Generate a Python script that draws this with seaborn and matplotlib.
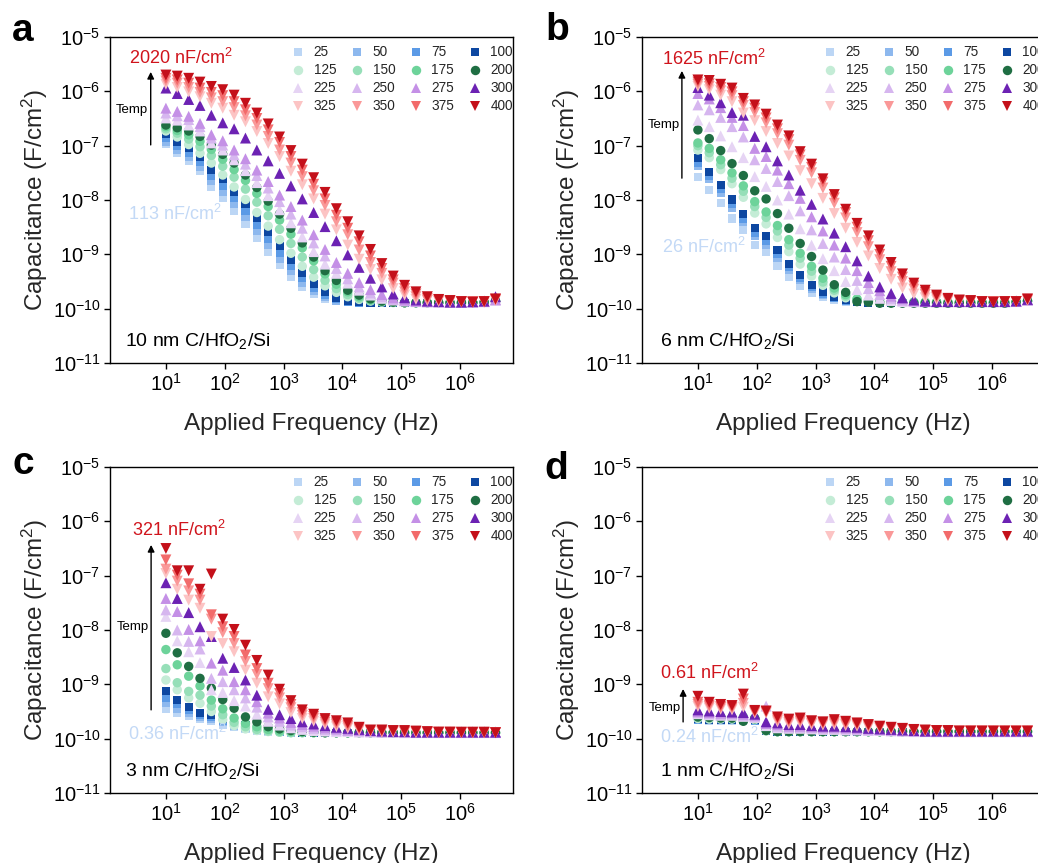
import matplotlib
matplotlib.use("Agg")
import matplotlib.pyplot as plt
import pandas as pd
import seaborn as sns
from matplotlib.lines import Line2D
from matplotlib.ticker import LogLocator, NullLocator

# ---------------- data ----------------
FREQ_HZ = [10, 15.6, 24.4, 38.0, 59.3, 92.6, 144.5, 225.5, 352, 549, 857, 1337,
           2087, 3257, 5083, 7932, 12380, 19320, 30150, 47050, 73430, 114600,
           178800, 279100, 435500, 679700, 1061000, 1655000, 2583000, 4031000]
TEMPS = [25, 50, 75, 100, 125, 150, 175, 200, 225, 250, 275, 300, 325, 350, 375, 400]

# log10 of capacitance (F/cm^2) -- panel a: 10 nm C/HfO2/Si
A25 = [-6.97, -7.14, -7.28, -7.47, -7.76, -7.97, -8.20, -8.45, -8.70, -8.95, -9.20, -9.42, -9.60, -9.73, -9.82, -9.86, -9.88, -9.89, -9.90, -9.90, -9.90, -9.90, -9.90, -9.90, -9.90, -9.90, -9.90, -9.90, -9.89, -9.87]
A50 = [-6.93, -7.08, -7.21, -7.39, -7.65, -7.85, -8.08, -8.32, -8.57, -8.83, -9.08, -9.31, -9.52, -9.68, -9.79, -9.85, -9.88, -9.89, -9.90, -9.90, -9.90, -9.90, -9.90, -9.90, -9.90, -9.90, -9.90, -9.90, -9.89, -9.87]
A75 = [-6.86, -7.01, -7.13, -7.30, -7.55, -7.74, -7.97, -8.21, -8.46, -8.71, -8.97, -9.21, -9.44, -9.62, -9.75, -9.83, -9.87, -9.89, -9.90, -9.90, -9.90, -9.90, -9.90, -9.90, -9.90, -9.90, -9.90, -9.90, -9.89, -9.87]
A100 = [-6.78, -6.94, -7.05, -7.20, -7.45, -7.62, -7.85, -8.08, -8.33, -8.58, -8.85, -9.10, -9.35, -9.55, -9.70, -9.80, -9.85, -9.88, -9.90, -9.90, -9.90, -9.90, -9.90, -9.90, -9.90, -9.90, -9.90, -9.90, -9.89, -9.87]
A125 = [-6.73, -6.84, -6.98, -7.14, -7.32, -7.54, -7.76, -7.99, -8.23, -8.48, -8.73, -8.98, -9.22, -9.42, -9.58, -9.70, -9.78, -9.83, -9.86, -9.88, -9.89, -9.89, -9.89, -9.89, -9.89, -9.89, -9.89, -9.89, -9.88, -9.86]
A150 = [-6.69, -6.77, -6.88, -7.02, -7.18, -7.38, -7.58, -7.80, -8.04, -8.29, -8.54, -8.80, -9.05, -9.28, -9.48, -9.63, -9.74, -9.81, -9.85, -9.87, -9.88, -9.89, -9.89, -9.89, -9.89, -9.89, -9.89, -9.89, -9.88, -9.86]
A175 = [-6.65, -6.72, -6.80, -6.92, -7.07, -7.25, -7.44, -7.64, -7.88, -8.12, -8.37, -8.63, -8.88, -9.12, -9.36, -9.55, -9.69, -9.78, -9.84, -9.87, -9.88, -9.89, -9.89, -9.89, -9.89, -9.89, -9.89, -9.89, -9.88, -9.86]
A200 = [-6.62, -6.67, -6.73, -6.83, -6.99, -7.16, -7.32, -7.54, -7.77, -8.02, -8.26, -8.52, -8.79, -9.05, -9.30, -9.48, -9.66, -9.75, -9.82, -9.86, -9.88, -9.89, -9.89, -9.89, -9.89, -9.89, -9.89, -9.89, -9.88, -9.86]
A225 = [-6.49, -6.53, -6.62, -6.73, -6.95, -7.08, -7.26, -7.46, -7.68, -7.92, -8.18, -8.42, -8.68, -8.95, -9.18, -9.35, -9.53, -9.66, -9.75, -9.81, -9.84, -9.86, -9.87, -9.88, -9.88, -9.88, -9.88, -9.88, -9.87, -9.85]
A250 = [-6.40, -6.45, -6.52, -6.65, -6.86, -6.99, -7.17, -7.34, -7.55, -7.78, -8.03, -8.26, -8.52, -8.79, -9.03, -9.26, -9.45, -9.60, -9.71, -9.78, -9.83, -9.85, -9.87, -9.87, -9.88, -9.88, -9.88, -9.88, -9.87, -9.84]
A275 = [-6.31, -6.37, -6.46, -6.59, -6.80, -6.91, -7.08, -7.24, -7.45, -7.66, -7.91, -8.12, -8.37, -8.64, -8.91, -9.15, -9.35, -9.52, -9.65, -9.74, -9.80, -9.84, -9.86, -9.87, -9.87, -9.87, -9.88, -9.88, -9.87, -9.83]
A300 = [-5.94, -6.04, -6.15, -6.26, -6.44, -6.58, -6.69, -6.86, -7.08, -7.28, -7.51, -7.74, -7.98, -8.23, -8.49, -8.75, -9.01, -9.24, -9.44, -9.60, -9.73, -9.80, -9.84, -9.86, -9.87, -9.88, -9.88, -9.87, -9.86, -9.78]
A325 = [-5.87, -5.93, -6.01, -6.10, -6.22, -6.31, -6.44, -6.56, -6.74, -6.96, -7.20, -7.47, -7.72, -7.98, -8.26, -8.55, -8.83, -9.09, -9.28, -9.47, -9.63, -9.75, -9.83, -9.85, -9.87, -9.88, -9.88, -9.88, -9.88, -9.85]
A350 = [-5.81, -5.85, -5.93, -6.02, -6.12, -6.19, -6.30, -6.45, -6.62, -6.83, -7.08, -7.32, -7.57, -7.83, -8.10, -8.40, -8.64, -8.92, -9.15, -9.35, -9.53, -9.69, -9.78, -9.84, -9.86, -9.87, -9.87, -9.88, -9.88, -9.84]
A375 = [-5.76, -5.79, -5.85, -5.94, -6.02, -6.08, -6.19, -6.34, -6.50, -6.71, -6.94, -7.20, -7.45, -7.71, -7.98, -8.28, -8.52, -8.77, -9.03, -9.26, -9.47, -9.63, -9.73, -9.81, -9.84, -9.86, -9.87, -9.87, -9.87, -9.83]
A400 = [-5.70, -5.72, -5.76, -5.83, -5.91, -5.97, -6.07, -6.22, -6.40, -6.60, -6.84, -7.09, -7.34, -7.59, -7.86, -8.16, -8.40, -8.66, -8.91, -9.17, -9.40, -9.57, -9.69, -9.78, -9.83, -9.85, -9.87, -9.88, -9.87, -9.82]

# panel b: 6 nm C/HfO2/Si
B25 = [-7.58, -7.82, -8.06, -8.34, -8.56, -8.83, -8.96, -9.21, -9.41, -9.58, -9.71, -9.78, -9.84, -9.87, -9.88, -9.89, -9.89, -9.89, -9.89, -9.89, -9.89, -9.89, -9.89, -9.89, -9.89, -9.89, -9.89, -9.89, -9.88, -9.86]
B50 = [-7.37, -7.62, -7.87, -8.14, -8.40, -8.66, -8.82, -9.06, -9.29, -9.48, -9.63, -9.74, -9.81, -9.86, -9.88, -9.89, -9.89, -9.89, -9.89, -9.89, -9.89, -9.89, -9.89, -9.89, -9.89, -9.89, -9.89, -9.89, -9.88, -9.86]
B75 = [-7.31, -7.55, -7.80, -8.07, -8.34, -8.60, -8.76, -9.00, -9.24, -9.44, -9.60, -9.72, -9.80, -9.85, -9.88, -9.89, -9.89, -9.89, -9.89, -9.89, -9.89, -9.89, -9.89, -9.89, -9.89, -9.89, -9.89, -9.89, -9.88, -9.86]
B100 = [-7.23, -7.48, -7.72, -7.99, -8.26, -8.52, -8.67, -8.92, -9.17, -9.38, -9.56, -9.69, -9.78, -9.84, -9.87, -9.89, -9.89, -9.89, -9.89, -9.89, -9.89, -9.89, -9.89, -9.89, -9.89, -9.89, -9.89, -9.89, -9.88, -9.86]
B125 = [-7.08, -7.22, -7.44, -7.70, -7.95, -8.24, -8.44, -8.69, -8.95, -9.18, -9.40, -9.57, -9.71, -9.80, -9.85, -9.87, -9.88, -9.88, -9.88, -9.88, -9.88, -9.88, -9.88, -9.88, -9.88, -9.88, -9.88, -9.88, -9.87, -9.86]
B150 = [-7.00, -7.13, -7.35, -7.60, -7.84, -8.12, -8.32, -8.57, -8.83, -9.07, -9.31, -9.51, -9.66, -9.77, -9.83, -9.86, -9.88, -9.88, -9.88, -9.88, -9.88, -9.88, -9.88, -9.88, -9.88, -9.88, -9.88, -9.88, -9.87, -9.86]
B175 = [-6.95, -7.05, -7.26, -7.50, -7.74, -8.03, -8.22, -8.47, -8.73, -8.98, -9.22, -9.44, -9.62, -9.74, -9.82, -9.86, -9.88, -9.88, -9.88, -9.88, -9.88, -9.88, -9.88, -9.88, -9.88, -9.88, -9.88, -9.88, -9.87, -9.86]
B200 = [-6.71, -6.87, -7.09, -7.33, -7.55, -7.83, -7.98, -8.25, -8.52, -8.80, -9.04, -9.29, -9.56, -9.70, -9.87, -9.88, -9.90, -9.90, -9.90, -9.90, -9.90, -9.90, -9.90, -9.90, -9.90, -9.90, -9.90, -9.90, -9.88, -9.86]
B225 = [-6.53, -6.65, -6.82, -7.02, -7.22, -7.57, -7.75, -8.00, -8.26, -8.53, -8.83, -9.08, -9.30, -9.50, -9.65, -9.75, -9.81, -9.85, -9.87, -9.87, -9.87, -9.87, -9.87, -9.87, -9.87, -9.87, -9.87, -9.87, -9.87, -9.85]
B250 = [-6.25, -6.34, -6.48, -6.65, -6.84, -7.26, -7.42, -7.66, -7.92, -8.20, -8.55, -8.80, -9.05, -9.28, -9.48, -9.63, -9.74, -9.81, -9.85, -9.87, -9.87, -9.87, -9.87, -9.87, -9.87, -9.87, -9.87, -9.87, -9.86, -9.84]
B275 = [-6.04, -6.14, -6.30, -6.48, -6.63, -7.05, -7.20, -7.45, -7.70, -7.97, -8.31, -8.57, -8.83, -9.07, -9.30, -9.52, -9.67, -9.77, -9.82, -9.85, -9.87, -9.87, -9.87, -9.87, -9.87, -9.87, -9.87, -9.87, -9.86, -9.84]
B300 = [-5.93, -6.07, -6.21, -6.39, -6.44, -6.83, -7.02, -7.28, -7.54, -7.82, -8.08, -8.35, -8.61, -8.86, -9.12, -9.40, -9.60, -9.72, -9.80, -9.84, -9.86, -9.87, -9.87, -9.87, -9.87, -9.87, -9.87, -9.87, -9.86, -9.83]
B325 = [-5.91, -5.97, -6.07, -6.19, -6.40, -6.54, -6.74, -6.96, -7.19, -7.46, -7.70, -7.97, -8.25, -8.52, -8.78, -9.03, -9.26, -9.46, -9.62, -9.73, -9.80, -9.84, -9.86, -9.87, -9.87, -9.87, -9.87, -9.87, -9.87, -9.85]
B350 = [-5.87, -5.91, -5.99, -6.08, -6.26, -6.39, -6.58, -6.78, -6.99, -7.27, -7.50, -7.78, -8.06, -8.33, -8.60, -8.86, -9.10, -9.32, -9.50, -9.64, -9.74, -9.80, -9.84, -9.86, -9.87, -9.87, -9.87, -9.87, -9.87, -9.84]
B375 = [-5.83, -5.86, -5.93, -6.01, -6.19, -6.31, -6.49, -6.69, -6.89, -7.17, -7.40, -7.67, -7.96, -8.23, -8.50, -8.75, -9.00, -9.22, -9.42, -9.58, -9.70, -9.78, -9.83, -9.85, -9.87, -9.87, -9.87, -9.87, -9.87, -9.83]
B400 = [-5.79, -5.80, -5.87, -5.94, -6.13, -6.25, -6.42, -6.62, -6.82, -7.11, -7.34, -7.61, -7.90, -8.17, -8.43, -8.66, -8.92, -9.15, -9.36, -9.53, -9.66, -9.75, -9.81, -9.84, -9.85, -9.87, -9.88, -9.87, -9.87, -9.82]

# panel c: 3 nm C/HfO2/Si
C25 = [-9.46, -9.53, -9.58, -9.63, -9.68, -9.74, -9.79, -9.83, -9.86, -9.87, -9.88, -9.89, -9.89, -9.89, -9.89, -9.89, -9.89, -9.89, -9.89, -9.89, -9.89, -9.89, -9.89, -9.89, -9.89, -9.89, -9.89, -9.89, -9.89, -9.89]
C50 = [-9.35, -9.45, -9.52, -9.60, -9.64, -9.70, -9.76, -9.80, -9.84, -9.86, -9.88, -9.89, -9.89, -9.89, -9.89, -9.89, -9.89, -9.89, -9.89, -9.89, -9.89, -9.89, -9.89, -9.89, -9.89, -9.89, -9.89, -9.89, -9.89, -9.89]
C75 = [-9.25, -9.37, -9.47, -9.57, -9.60, -9.67, -9.73, -9.78, -9.82, -9.85, -9.87, -9.88, -9.89, -9.89, -9.89, -9.89, -9.89, -9.89, -9.89, -9.89, -9.89, -9.89, -9.89, -9.89, -9.89, -9.89, -9.89, -9.89, -9.89, -9.89]
C100 = [-9.13, -9.29, -9.41, -9.53, -9.56, -9.63, -9.70, -9.75, -9.80, -9.84, -9.86, -9.88, -9.89, -9.89, -9.89, -9.89, -9.89, -9.89, -9.89, -9.89, -9.89, -9.89, -9.89, -9.89, -9.89, -9.89, -9.88, -9.87, -9.86, -9.86]
C125 = [-8.92, -9.10, -9.25, -9.35, -9.50, -9.65, -9.76, -9.82, -9.85, -9.87, -9.88, -9.89, -9.89, -9.89, -9.89, -9.89, -9.89, -9.89, -9.89, -9.89, -9.89, -9.89, -9.89, -9.89, -9.89, -9.89, -9.89, -9.89, -9.89, -9.89]
C150 = [-8.71, -8.97, -9.13, -9.20, -9.40, -9.56, -9.70, -9.78, -9.83, -9.86, -9.88, -9.89, -9.89, -9.89, -9.89, -9.89, -9.89, -9.89, -9.89, -9.89, -9.89, -9.89, -9.89, -9.89, -9.89, -9.89, -9.89, -9.89, -9.89, -9.89]
C175 = [-8.36, -8.64, -8.85, -9.03, -9.29, -9.45, -9.62, -9.72, -9.78, -9.83, -9.86, -9.87, -9.88, -9.89, -9.89, -9.89, -9.89, -9.89, -9.89, -9.89, -9.89, -9.89, -9.89, -9.89, -9.89, -9.89, -9.89, -9.89, -9.89, -9.89]
C200 = [-8.06, -8.42, -8.67, -8.89, -9.07, -9.28, -9.44, -9.60, -9.69, -9.78, -9.82, -9.85, -9.87, -9.88, -9.89, -9.89, -9.89, -9.89, -9.89, -9.89, -9.89, -9.89, -9.89, -9.89, -9.89, -9.89, -9.89, -9.89, -9.89, -9.89]
C225 = [-7.75, -8.20, -8.40, -8.60, -9.10, -9.15, -9.30, -9.40, -9.55, -9.68, -9.75, -9.80, -9.83, -9.85, -9.86, -9.87, -9.87, -9.88, -9.88, -9.88, -9.88, -9.89, -9.89, -9.89, -9.89, -9.89, -9.89, -9.89, -9.89, -9.89]
C250 = [-7.63, -8.00, -8.21, -8.35, -8.89, -8.95, -9.10, -9.25, -9.42, -9.60, -9.68, -9.75, -9.78, -9.81, -9.83, -9.84, -9.85, -9.86, -9.87, -9.88, -9.88, -9.88, -9.88, -9.88, -9.88, -9.88, -9.88, -9.88, -9.88, -9.88]
C275 = [-7.42, -7.66, -7.99, -8.20, -8.61, -8.74, -8.95, -9.10, -9.32, -9.53, -9.62, -9.70, -9.74, -9.77, -9.80, -9.82, -9.84, -9.85, -9.86, -9.87, -9.87, -9.88, -9.88, -9.88, -9.88, -9.88, -9.88, -9.88, -9.88, -9.88]
C300 = [-7.13, -7.42, -7.68, -7.94, -8.12, -8.52, -8.69, -8.92, -9.20, -9.46, -9.56, -9.63, -9.69, -9.73, -9.76, -9.79, -9.81, -9.83, -9.85, -9.86, -9.87, -9.87, -9.88, -9.88, -9.88, -9.88, -9.88, -9.88, -9.88, -9.88]
C325 = [-6.96, -7.25, -7.45, -7.60, -8.12, -8.25, -8.40, -8.74, -8.98, -9.23, -9.36, -9.52, -9.63, -9.68, -9.74, -9.78, -9.81, -9.85, -9.87, -9.88, -9.88, -9.88, -9.89, -9.89, -9.89, -9.89, -9.89, -9.89, -9.89, -9.89]
C350 = [-6.88, -7.10, -7.28, -7.45, -7.80, -8.05, -8.25, -8.58, -8.82, -9.08, -9.25, -9.43, -9.57, -9.63, -9.70, -9.74, -9.78, -9.83, -9.86, -9.87, -9.87, -9.88, -9.88, -9.88, -9.89, -9.89, -9.89, -9.89, -9.89, -9.89]
C375 = [-6.71, -6.99, -7.15, -7.34, -7.72, -7.94, -8.12, -8.46, -8.71, -8.98, -9.17, -9.37, -9.52, -9.59, -9.66, -9.71, -9.75, -9.81, -9.85, -9.86, -9.86, -9.87, -9.87, -9.88, -9.88, -9.88, -9.89, -9.89, -9.89, -9.89]
C400 = [-6.50, -6.91, -6.91, -7.25, -6.97, -7.80, -7.99, -8.28, -8.56, -8.83, -9.09, -9.30, -9.47, -9.55, -9.63, -9.67, -9.71, -9.79, -9.84, -9.84, -9.85, -9.85, -9.86, -9.87, -9.88, -9.88, -9.88, -9.88, -9.88, -9.89]

# panel d: 1 nm C/HfO2/Si
D25 = [-9.66, -9.67, -9.67, -9.67, -9.67, -9.68, -9.86, -9.87, -9.87, -9.87, -9.87, -9.87, -9.87, -9.87, -9.87, -9.87, -9.87, -9.87, -9.87, -9.87, -9.87, -9.87, -9.87, -9.87, -9.87, -9.87, -9.87, -9.87, -9.87, -9.87]
D50 = [-9.65, -9.66, -9.66, -9.66, -9.66, -9.67, -9.86, -9.87, -9.87, -9.87, -9.87, -9.87, -9.87, -9.87, -9.87, -9.87, -9.87, -9.87, -9.87, -9.87, -9.87, -9.87, -9.87, -9.87, -9.87, -9.87, -9.87, -9.87, -9.87, -9.87]
D75 = [-9.65, -9.66, -9.66, -9.66, -9.66, -9.67, -9.86, -9.87, -9.87, -9.87, -9.87, -9.87, -9.87, -9.87, -9.87, -9.87, -9.87, -9.87, -9.87, -9.87, -9.87, -9.87, -9.87, -9.87, -9.87, -9.87, -9.87, -9.87, -9.87, -9.87]
D100 = [-9.64, -9.65, -9.65, -9.66, -9.65, -9.66, -9.86, -9.87, -9.87, -9.87, -9.87, -9.87, -9.87, -9.87, -9.87, -9.87, -9.87, -9.87, -9.87, -9.87, -9.87, -9.87, -9.87, -9.87, -9.87, -9.87, -9.87, -9.87, -9.87, -9.87]
D125 = [-9.63, -9.64, -9.64, -9.64, -9.64, -9.65, -9.86, -9.87, -9.87, -9.87, -9.87, -9.87, -9.87, -9.87, -9.87, -9.87, -9.87, -9.87, -9.87, -9.87, -9.87, -9.87, -9.87, -9.87, -9.87, -9.87, -9.87, -9.87, -9.87, -9.87]
D150 = [-9.61, -9.62, -9.62, -9.63, -9.62, -9.64, -9.85, -9.87, -9.87, -9.87, -9.87, -9.87, -9.87, -9.87, -9.87, -9.87, -9.87, -9.87, -9.87, -9.87, -9.87, -9.87, -9.87, -9.87, -9.87, -9.87, -9.87, -9.87, -9.87, -9.87]
D175 = [-9.58, -9.60, -9.60, -9.61, -9.60, -9.62, -9.84, -9.87, -9.87, -9.87, -9.87, -9.87, -9.87, -9.87, -9.87, -9.87, -9.87, -9.87, -9.87, -9.87, -9.87, -9.87, -9.87, -9.87, -9.87, -9.87, -9.87, -9.87, -9.87, -9.87]
D200 = [-9.60, -9.61, -9.62, -9.62, -9.68, -9.63, -9.85, -9.87, -9.87, -9.87, -9.87, -9.87, -9.87, -9.87, -9.87, -9.87, -9.87, -9.87, -9.87, -9.87, -9.87, -9.87, -9.87, -9.87, -9.87, -9.87, -9.87, -9.87, -9.87, -9.87]
D225 = [-9.54, -9.56, -9.57, -9.57, -9.59, -9.61, -9.76, -9.80, -9.81, -9.81, -9.82, -9.83, -9.83, -9.84, -9.84, -9.85, -9.85, -9.86, -9.86, -9.87, -9.87, -9.87, -9.87, -9.87, -9.87, -9.87, -9.87, -9.87, -9.87, -9.87]
D250 = [-9.52, -9.54, -9.55, -9.55, -9.57, -9.59, -9.40, -9.77, -9.79, -9.79, -9.80, -9.81, -9.81, -9.82, -9.83, -9.84, -9.84, -9.85, -9.86, -9.86, -9.87, -9.87, -9.87, -9.87, -9.87, -9.87, -9.87, -9.87, -9.87, -9.87]
D275 = [-9.50, -9.52, -9.53, -9.53, -9.55, -9.57, -9.72, -9.74, -9.77, -9.77, -9.78, -9.79, -9.79, -9.80, -9.81, -9.82, -9.83, -9.84, -9.85, -9.86, -9.86, -9.87, -9.87, -9.87, -9.87, -9.87, -9.87, -9.87, -9.87, -9.87]
D300 = [-9.47, -9.49, -9.50, -9.51, -9.52, -9.55, -9.69, -9.71, -9.74, -9.74, -9.76, -9.77, -9.77, -9.78, -9.79, -9.81, -9.82, -9.83, -9.84, -9.85, -9.86, -9.86, -9.86, -9.86, -9.86, -9.86, -9.86, -9.86, -9.86, -9.86]
D325 = [-9.41, -9.44, -9.46, -9.47, -9.42, -9.53, -9.53, -9.69, -9.73, -9.71, -9.74, -9.75, -9.74, -9.76, -9.77, -9.80, -9.81, -9.83, -9.84, -9.85, -9.86, -9.86, -9.86, -9.87, -9.87, -9.87, -9.87, -9.87, -9.87, -9.87]
D350 = [-9.37, -9.41, -9.43, -9.44, -9.35, -9.51, -9.52, -9.66, -9.70, -9.68, -9.72, -9.73, -9.71, -9.74, -9.75, -9.78, -9.80, -9.82, -9.83, -9.85, -9.85, -9.86, -9.86, -9.86, -9.86, -9.86, -9.86, -9.86, -9.86, -9.86]
D375 = [-9.33, -9.38, -9.41, -9.42, -9.27, -9.50, -9.50, -9.63, -9.67, -9.65, -9.69, -9.71, -9.68, -9.71, -9.73, -9.76, -9.78, -9.80, -9.82, -9.84, -9.85, -9.85, -9.86, -9.86, -9.86, -9.86, -9.86, -9.86, -9.86, -9.86]
D400 = [-9.22, -9.33, -9.37, -9.39, -9.18, -9.48, -9.49, -9.60, -9.64, -9.62, -9.67, -9.69, -9.65, -9.68, -9.71, -9.74, -9.77, -9.79, -9.81, -9.83, -9.84, -9.85, -9.85, -9.86, -9.86, -9.86, -9.86, -9.86, -9.86, -9.86]

PANELS = {
    "a": [A25, A50, A75, A100, A125, A150, A175, A200, A225, A250, A275, A300, A325, A350, A375, A400],
    "b": [B25, B50, B75, B100, B125, B150, B175, B200, B225, B250, B275, B300, B325, B350, B375, B400],
    "c": [C25, C50, C75, C100, C125, C150, C175, C200, C225, C250, C275, C300, C325, C350, C375, C400],
    "d": [D25, D50, D75, D100, D125, D150, D175, D200, D225, D250, D275, D300, D325, D350, D375, D400],
}
SAMPLES = {"a": "10 nm C/HfO$_2$/Si", "b": "6 nm C/HfO$_2$/Si",
           "c": "3 nm C/HfO$_2$/Si", "d": "1 nm C/HfO$_2$/Si"}
HIGH_LABEL = {"a": "2020 nF/cm$^2$", "b": "1625 nF/cm$^2$", "c": "321 nF/cm$^2$", "d": "0.61 nF/cm$^2$"}
LOW_LABEL = {"a": "113 nF/cm$^2$", "b": "26 nF/cm$^2$", "c": "0.36 nF/cm$^2$", "d": "0.24 nF/cm$^2$"}

for key, series in PANELS.items():
    for s in series:
        assert len(s) == len(FREQ_HZ), (key, len(s))

# ---------------- style ----------------
COLORS = ["#bcd6f5", "#8db8ee", "#5b9ae6", "#0d47a1",
          "#c4ecd6", "#96dfb8", "#6dd39a", "#1f6e43",
          "#e6d4f4", "#d6b6ef", "#c490e6", "#6c22b3",
          "#fcc4c4", "#fa9898", "#f26b6b", "#c4101a"]
MARKS = ["s"] * 4 + ["o"] * 4 + ["^"] * 4 + ["v"] * 4
MSIZE = [34] * 4 + [46] * 4 + [62] * 4 + [62] * 4
LEG_MS = [5.8] * 4 + [6.8] * 4 + [7.4] * 4 + [7.4] * 4
LABELS = [str(t) for t in TEMPS]
PALETTE = dict(zip(LABELS, COLORS))
MARKER_MAP = dict(zip(LABELS, MARKS))
SIZE_MAP = dict(zip(LABELS, MSIZE))

sns.set_theme(style="ticks")
plt.rcParams["font.family"] = ["Liberation Sans", "DejaVu Sans"]
plt.rcParams["mathtext.fontset"] = "custom"
plt.rcParams["mathtext.rm"] = "Liberation Sans"
plt.rcParams["mathtext.it"] = "Liberation Sans:italic"
plt.rcParams["mathtext.bf"] = "Liberation Sans:bold"
plt.rcParams["axes.edgecolor"] = "black"
plt.rcParams["axes.linewidth"] = 1.0

W, H = 1038, 863
fig = plt.figure(figsize=(W / 100, H / 100), dpi=100)

AX_W, AX_H = 403, 326
POS = {"a": (110, 37), "b": (642, 37), "c": (110, 467), "d": (642, 467)}
LETTER_POS = {"a": (12, 41), "b": (545, 40), "c": (12, 474), "d": (544, 479)}

RED_TXT = "#d0141c"
BLUE_TXT = "#c3d9f6"

ANNOT = {
    "a": dict(hx=0.047, hy=0.936, lx=0.045, ly=0.457, ax_=0.101, ab=0.669, at=0.893, ty=0.776),
    "b": dict(hx=0.050, hy=0.933, lx=0.050, ly=0.356, ax_=0.099, ab=0.567, at=0.896, ty=0.730),
    "c": dict(hx=0.055, hy=0.807, lx=0.045, ly=0.181, ax_=0.102, ab=0.255, at=0.761, ty=0.509),
    "d": dict(hx=0.045, hy=0.368, lx=0.045, ly=0.172, ax_=0.102, ab=0.218, at=0.319, ty=0.261),
}

leg_order = [0, 4, 8, 12, 1, 5, 9, 13, 2, 6, 10, 14, 3, 7, 11, 15]

for key, series in PANELS.items():
    px, py = POS[key]
    ax = fig.add_axes([px / W, 1 - (py + AX_H) / H, AX_W / W, AX_H / H])
    rows = []
    for lab, vals in zip(LABELS, series):
        for f, v in zip(FREQ_HZ, vals):
            rows.append((f, 10.0 ** v, lab))
    df = pd.DataFrame(rows, columns=["freq", "cap", "T"])
    ax.set_xscale("log")
    ax.set_yscale("log")
    sns.scatterplot(data=df, x="freq", y="cap", hue="T", style="T", size="T",
                    hue_order=LABELS, style_order=LABELS, size_order=LABELS,
                    palette=PALETTE, markers=MARKER_MAP, sizes=SIZE_MAP,
                    linewidth=0, legend=False, ax=ax)
    ax.set_xlim(1.12, 8.0e6)
    ax.set_ylim(1e-11, 1e-5)
    ax.xaxis.set_major_locator(LogLocator(base=10, numticks=20))
    ax.yaxis.set_major_locator(LogLocator(base=10, numticks=20))
    ax.xaxis.set_minor_locator(NullLocator())
    ax.yaxis.set_minor_locator(NullLocator())
    ax.tick_params(axis="both", which="major", direction="out", length=4.3, width=1.0,
                   labelsize=14.5, color="black", labelcolor="black")
    ax.tick_params(axis="x", pad=3.0)
    ax.tick_params(axis="y", pad=2.6)
    for sp in ax.spines.values():
        sp.set_visible(True)
        sp.set_linewidth(1.0)
        sp.set_color("black")
    ax.set_xlabel("Applied Frequency (Hz)", fontsize=17.5)
    ax.set_ylabel("Capacitance (F/cm$^2$)", fontsize=17.5)
    ax.xaxis.set_label_coords(0.5, -0.153)
    ax.yaxis.set_label_coords(-0.149, 0.5)

    handles = [Line2D([], [], marker=MARKS[i], color=COLORS[i], linestyle="None",
                      markersize=LEG_MS[i], markeredgewidth=0) for i in leg_order]
    labels = [LABELS[i] for i in leg_order]
    ax.legend(handles, labels, loc="upper left", bbox_to_anchor=(0.45, 0.974),
              ncol=4, frameon=False, fontsize=9.8, handlelength=1.0,
              handletextpad=0.65, columnspacing=1.0, labelspacing=0.29,
              borderpad=0, borderaxespad=0)

    a = ANNOT[key]
    ax.text(a["hx"], a["hy"], HIGH_LABEL[key], transform=ax.transAxes, color=RED_TXT,
            fontsize=13, ha="left", va="center")
    ax.text(a["lx"], a["ly"], LOW_LABEL[key], transform=ax.transAxes, color=BLUE_TXT,
            fontsize=13, ha="left", va="center")
    ax.annotate("", xy=(a["ax_"], a["at"]), xytext=(a["ax_"], a["ab"]),
                xycoords="axes fraction", textcoords="axes fraction",
                arrowprops=dict(arrowstyle="-|>", color="black", lw=1.0,
                                mutation_scale=10, shrinkA=0, shrinkB=0))
    ax.text(a["ax_"] - 0.006, a["ty"], "Temp", transform=ax.transAxes, fontsize=9.5,
            ha="right", va="center", color="black")
    ax.text(0.037 if key in ("a", "c") else 0.045, 0.068, SAMPLES[key],
            transform=ax.transAxes, fontsize=14, ha="left", va="center", color="black")

    lx, ly = LETTER_POS[key]
    fig.text(lx / W, 1 - ly / H, key, fontsize=28, fontweight="bold", ha="left",
             va="baseline", color="black")

fig.savefig("out.png", dpi=100)
